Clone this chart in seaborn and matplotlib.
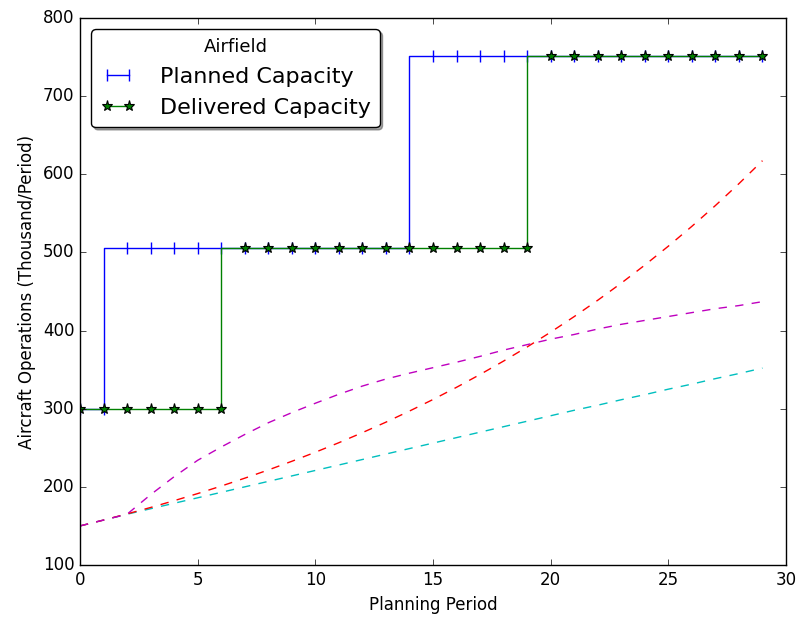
import matplotlib
matplotlib.use("Agg")
import matplotlib.pyplot as plt
import seaborn as sns
import pandas as pd

plt.style.use("classic")

periods = list(range(30))

# Airfield capacity (thousand operations per period)
planned_capacity = [300, 300] + [506] * 13 + [751] * 15
delivered_capacity = [300] * 7 + [506] * 13 + [751] * 10

# Demand forecast scenarios
demand_low = [150.0, 157.5, 165.0, 172.0, 179.0, 186.0, 193.0, 200.0, 207.0, 214.0,
              221.0, 228.0, 235.0, 242.0, 249.0, 256.0, 263.0, 270.0, 277.0, 284.0,
              291.0, 298.0, 304.5, 311.5, 318.0, 325.0, 331.5, 338.5, 345.0, 352.0]
demand_high = [150.0, 157.5, 165.4, 173.6, 182.3, 191.4, 201.0, 211.1, 221.6, 232.7,
               244.3, 256.5, 269.4, 282.8, 297.0, 311.8, 327.4, 343.8, 361.0, 379.0,
               398.0, 417.9, 438.8, 460.7, 483.8, 508.0, 533.4, 560.0, 588.0, 617.4]
demand_saturating = [150.0, 157.5, 165.0, 190.0, 213.0, 234.0, 251.0, 267.0, 282.0, 295.0,
                     307.0, 318.5, 329.0, 338.0, 345.5, 352.5, 359.5, 367.0, 375.0, 382.0,
                     389.0, 395.0, 402.0, 408.0, 413.0, 418.0, 423.0, 428.0, 432.0, 437.0]

df = pd.DataFrame({
    "period": periods,
    "planned": planned_capacity,
    "delivered": delivered_capacity,
    "low": demand_low,
    "high": demand_high,
    "sat": demand_saturating,
})

fig = plt.figure(figsize=(7.97, 6.21), dpi=100)
ax = fig.add_axes([80 / 797, 56 / 621, 706 / 797, 547 / 621])

sns.lineplot(data=df, x="period", y="planned", ax=ax, color="b", marker="|",
             markersize=8, markeredgecolor="b", markeredgewidth=1,
             drawstyle="steps-pre", estimator=None, sort=False,
             label="Planned Capacity")
sns.lineplot(data=df, x="period", y="delivered", ax=ax, color="g", marker="*",
             markersize=8, markerfacecolor="g", markeredgecolor="k",
             markeredgewidth=0.8, drawstyle="steps-pre",
             estimator=None, sort=False, label="Delivered Capacity")
sns.lineplot(data=df, x="period", y="low", ax=ax, color="c", linestyle="--",
             estimator=None, sort=False)
sns.lineplot(data=df, x="period", y="high", ax=ax, color="r", linestyle="--",
             estimator=None, sort=False)
sns.lineplot(data=df, x="period", y="sat", ax=ax, color="m", linestyle="--",
             estimator=None, sort=False)

ax.set_xlim(0, 30)
ax.set_ylim(100, 800)
ax.set_xlabel("Planning Period")
ax.set_ylabel("Aircraft Operations (Thousand/Period)")

handles, labels = ax.get_legend_handles_labels()
leg = ax.legend(handles[:2], labels[:2], loc="upper left", title="Airfield",
                fontsize=16, title_fontsize=13, fancybox=True, shadow=True,
                numpoints=2, handlelength=1.6, handletextpad=1.1)

fig.savefig("out.png", dpi=100)
